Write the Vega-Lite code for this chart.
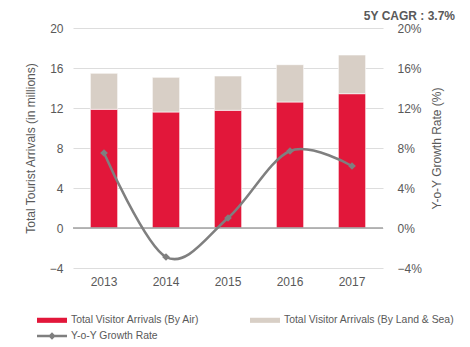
{
  "$schema": "https://vega.github.io/schema/vega-lite/v6.json",
  "width": 310,
  "height": 240,
  "autosize": {"type": "none"},
  "padding": {"left": 73, "top": 28, "right": 87, "bottom": 79},
  "background": "white",
  "config": {
    "view": {"stroke": null},
    "font": "Liberation Sans",
    "axis": {"labelColor": "#595959", "titleColor": "#595959", "labelFontSize": 12, "titleFontSize": 12, "titleFontWeight": "normal", "tickSize": 0, "tickOpacity": 0, "domain": false, "labelOverlap": false, "gridColor": "#DDDDDD", "gridWidth": 1.2, "gridOpacity": 1},
    "axisY": {"grid": true},
    "axisX": {"grid": false},
    "legend": {"labelColor": "#595959", "labelFontSize": 10.4, "labelFont": "Liberation Sans", "labelLimit": 300}
  },
  "title": {"text": "5Y CAGR : 3.7%", "anchor": "end", "fontSize": 12, "fontWeight": "bold", "color": "#595959", "offset": 0, "dy": 1},
  "datasets": {
    "bars": [
      {"year": "2013", "type": "Total Visitor Arrivals (By Air)", "value": 11.87, "ord": 1},
      {"year": "2013", "type": "Total Visitor Arrivals (By Land & Sea)", "value": 3.6, "ord": 2},
      {"year": "2014", "type": "Total Visitor Arrivals (By Air)", "value": 11.6, "ord": 1},
      {"year": "2014", "type": "Total Visitor Arrivals (By Land & Sea)", "value": 3.47, "ord": 2},
      {"year": "2015", "type": "Total Visitor Arrivals (By Air)", "value": 11.77, "ord": 1},
      {"year": "2015", "type": "Total Visitor Arrivals (By Land & Sea)", "value": 3.43, "ord": 2},
      {"year": "2016", "type": "Total Visitor Arrivals (By Air)", "value": 12.6, "ord": 1},
      {"year": "2016", "type": "Total Visitor Arrivals (By Land & Sea)", "value": 3.73, "ord": 2},
      {"year": "2017", "type": "Total Visitor Arrivals (By Air)", "value": 13.43, "ord": 1},
      {"year": "2017", "type": "Total Visitor Arrivals (By Land & Sea)", "value": 3.87, "ord": 2}
    ],
    "growth": [
      {"year": "2013", "rate": 0.075},
      {"year": "2014", "rate": -0.029},
      {"year": "2015", "rate": 0.01},
      {"year": "2016", "rate": 0.077},
      {"year": "2017", "rate": 0.062}
    ]
  },
  "layer": [
    {
      "data": {"name": "bars"},
      "layer": [
        {
          "mark": {"type": "bar", "stroke": "white", "strokeWidth": 0.6},
          "encoding": {
            "x": {
              "field": "year", "type": "ordinal",
              "scale": {"paddingInner": 0.56, "paddingOuter": 0.28},
              "axis": {"title": null, "labelAngle": 0, "labelPadding": 8}
            },
            "y": {
              "field": "value", "type": "quantitative", "stack": "zero",
              "scale": {"domain": [-4, 20], "nice": false, "zero": false},
              "axis": {"title": "Total Tourist Arrivals (in millions)", "values": [-4, 0, 4, 8, 12, 16, 20], "labelPadding": 10, "titlePadding": 12, "grid": true}
            },
            "order": {"field": "ord", "type": "quantitative"},
            "color": {
              "field": "type", "type": "nominal",
              "scale": {"domain": ["Total Visitor Arrivals (By Air)", "Total Visitor Arrivals (By Land & Sea)"], "range": ["#E2173A", "#D8CFC6"]},
              "legend": {"title": null, "orient": "none", "legendX": -36, "legendY": 277, "columns": 2, "columnPadding": 50, "symbolType": "M-1,-0.17H1V0.17H-1Z", "symbolSize": 900, "symbolStrokeWidth": 0, "labelOffset": 4}
            }
          }
        },
        {
          "data": {"values": [{"zero": 0}]},
          "mark": {"type": "rule", "color": "#A0A0A0", "strokeWidth": 1.6},
          "encoding": {
            "y": {"field": "zero", "type": "quantitative",
              "axis": {"title": "Total Tourist Arrivals (in millions)", "values": [-4, 0, 4, 8, 12, 16, 20], "labelPadding": 10, "titlePadding": 12, "grid": true}}
          }
        }
      ]
    },
    {
      "data": {"name": "growth"},
      "encoding": {
        "x": {
          "field": "year", "type": "ordinal",
          "scale": {"paddingInner": 0.56, "paddingOuter": 0.28},
          "axis": {"title": null, "labelAngle": 0, "labelPadding": 8}
        }
      },
      "layer": [
        {
          "mark": {"type": "line", "interpolate": "cardinal", "strokeWidth": 2.5},
          "encoding": {
            "y": {
              "field": "rate", "type": "quantitative",
              "scale": {"domain": [-0.04, 0.2], "nice": false, "zero": false},
              "axis": {"orient": "right", "title": "Y-o-Y Growth Rate (%)", "format": ".0%", "values": [-0.04, 0, 0.04, 0.08, 0.12, 0.16, 0.2], "labelPadding": 14, "titlePadding": 22, "titleAngle": -90, "grid": false}
            },
            "stroke": {
              "datum": "Y-o-Y Growth Rate",
              "scale": {"range": ["#7F7F7F"]},
              "legend": {"title": null, "orient": "none", "legendX": -36, "legendY": 293, "symbolType": "M-1,-0.08H1V0.08H-1Z M0,-0.25L0.25,0L0,0.25L-0.25,0Z", "symbolSize": 900, "symbolStrokeWidth": 0, "labelOffset": 4, "symbolFillColor": "#7F7F7F",
                "encode": {"symbols": {"update": {"fill": {"value": "#7F7F7F"}, "strokeWidth": {"value": 0}}}}}
            }
          }
        },
        {
          "mark": {"type": "point", "shape": "diamond", "filled": true, "size": 60, "color": "#7F7F7F", "opacity": 1},
          "encoding": {"y": {"field": "rate", "type": "quantitative",
            "axis": {"orient": "right", "title": "Y-o-Y Growth Rate (%)", "format": ".0%", "values": [-0.04, 0, 0.04, 0.08, 0.12, 0.16, 0.2], "labelPadding": 14, "titlePadding": 22, "titleAngle": -90, "grid": false}}}
        }
      ]
    }
  ],
  "resolve": {"scale": {"y": "independent"}}
}
